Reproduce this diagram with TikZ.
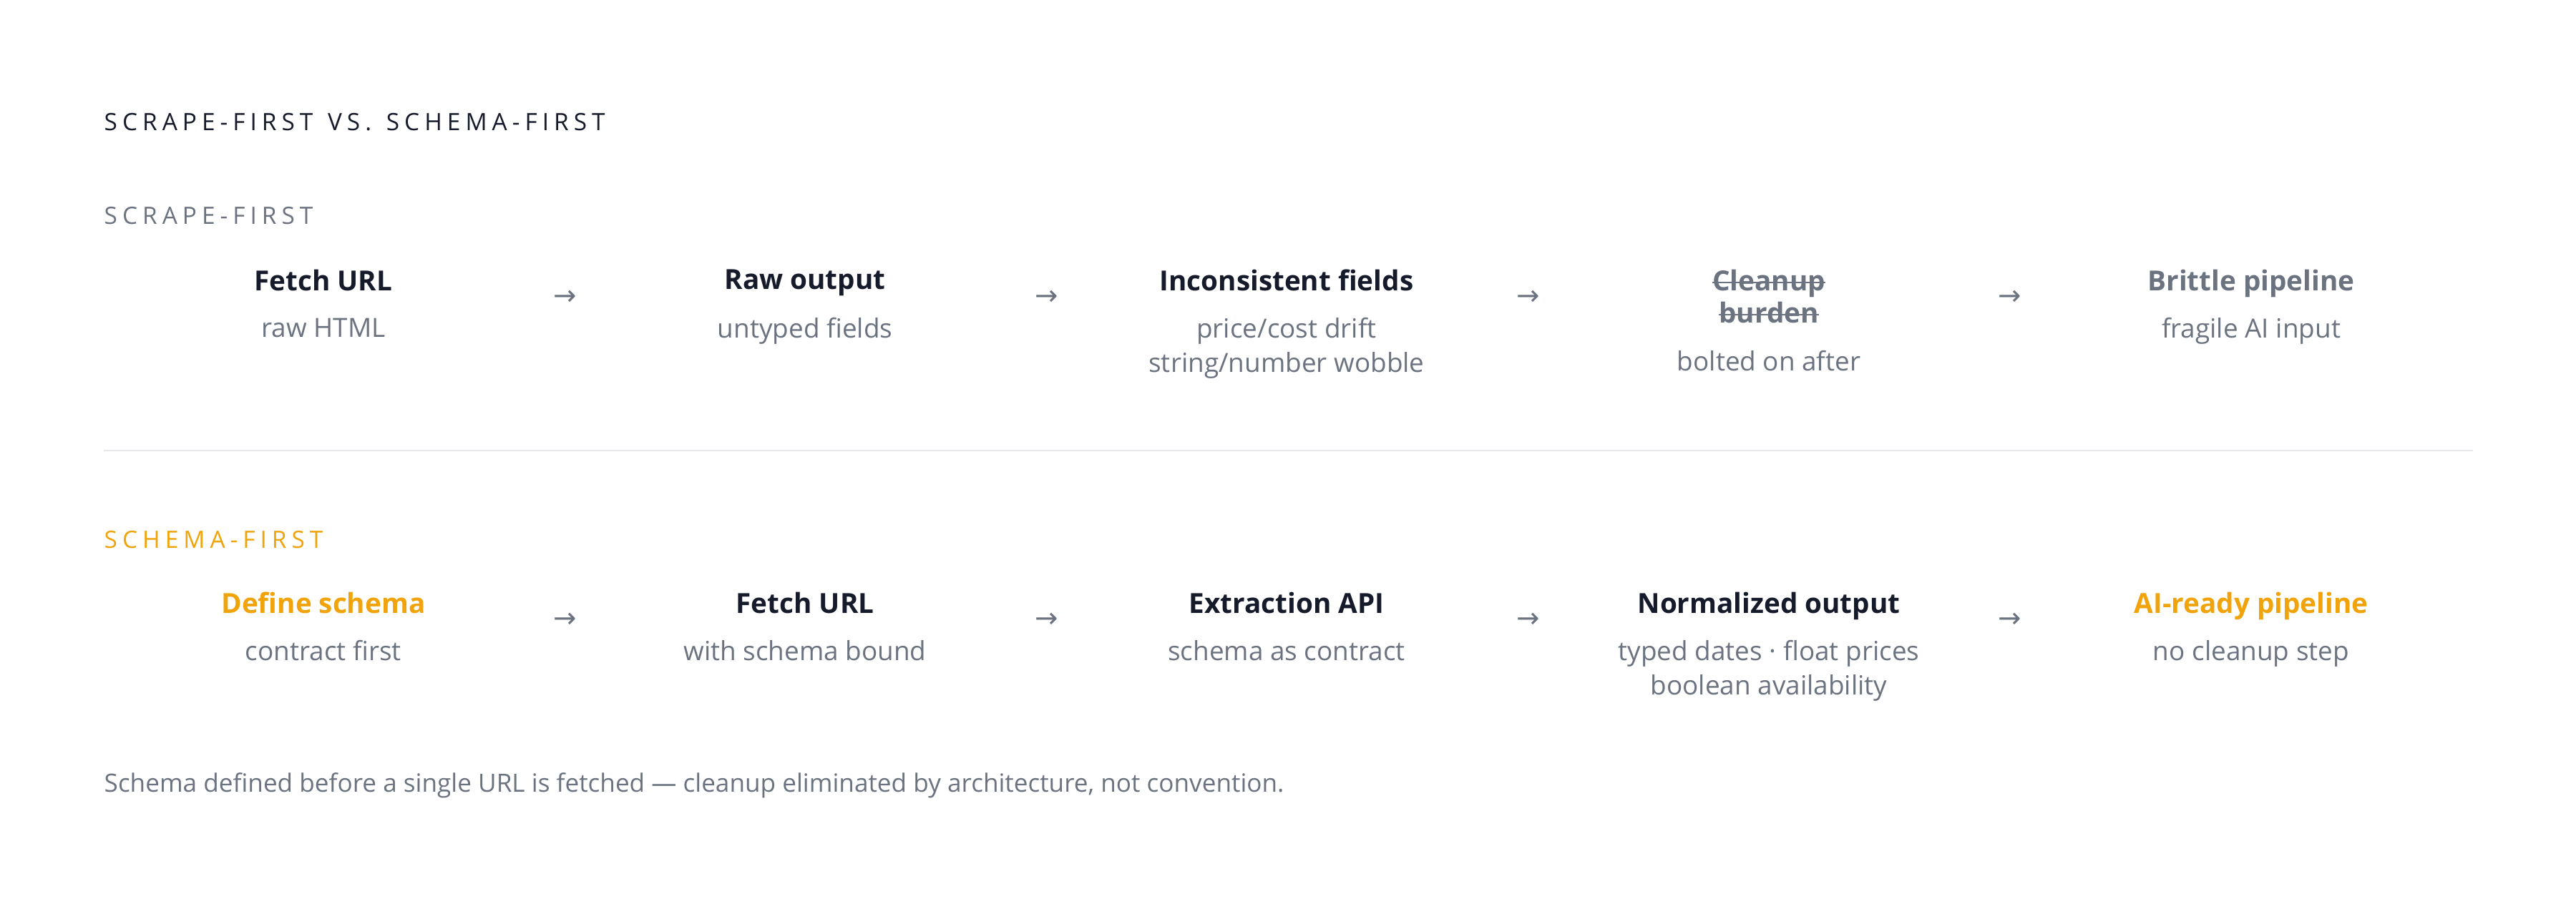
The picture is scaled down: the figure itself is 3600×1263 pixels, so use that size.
\documentclass[tikz,border=0pt]{standalone}
\usepackage{fontspec}
\setmainfont{Open Sans}
\newfontfamily\capsfont[LetterSpace=21]{Open Sans}
\newfontfamily\arrowfont{DejaVu Sans}
\usetikzlibrary{positioning}
\definecolor{ink}{HTML}{161B2B}
\definecolor{slate}{HTML}{6B7280}
\definecolor{amber}{HTML}{F0A30A}
\definecolor{hairline}{HTML}{E5E7EB}
\newsavebox\strikebox
\newcommand\strikeout[1]{\sbox\strikebox{#1}\rlap{\rule[0.27em]{\wd\strikebox}{0.055em}}\usebox\strikebox}
\tikzstyle{heading} = [anchor=base west, inner sep=0, text=ink, font=\capsfont\fontsize{9.5}{11}\selectfont]
\tikzstyle{rowlabel} = [heading, text=slate]
\tikzstyle{steptitle} = [anchor=north, inner sep=0, align=center, text=ink, font=\bfseries\fontsize{11}{12.8}\selectfont]
\tikzstyle{stepnote} = [anchor=north, inner sep=0, align=center, text=slate, font=\fontsize{10.5}{13.6}\selectfont]
\tikzstyle{flow} = [inner sep=0, text=slate, font=\arrowfont\fontsize{11}{11}\selectfont]
\tikzstyle{footnote} = [anchor=base west, inner sep=0, text=slate, font=\fontsize{10}{11}\selectfont]
\tikzstyle{rule} = [draw=hairline, line width=0.2mm]

\begin{document}
\begin{tikzpicture}[x=0.1mm, y=-0.1mm]
  \useasboundingbox (0,0) rectangle (3600,1263);
  \node (title) [heading] at (145,182) {SCRAPE-FIRST \hspace{0.5mm}VS. \hspace{0.5mm}SCHEMA-FIRST};

  % scrape-first row
  \node (lab1) [rowlabel] at (145,313) {SCRAPE-FIRST};
  \node (scr1) [steptitle] at (452,376) {Fetch URL};
  \node (scr2) [steptitle] at (1125,376) {Raw output};
  \node (scr3) [steptitle] at (1798,376) {Inconsistent fields};
  \node (scr4) [steptitle, text=slate] at (2472,376) {\strikeout{Cleanup}\\\strikeout{burden}};
  \node (scr5) [steptitle, text=slate] at (3146,376) {Brittle pipeline};
  \node (scrn1) [stepnote] at (452,444) {raw HTML};
  \node (scrn2) [stepnote] at (1125,444) {untyped fields};
  \node (scrn3) [stepnote] at (1798,444) {price/cost drift\\string/number wobble};
  \node (scrn4) [stepnote] at (2472,490) {bolted on after};
  \node (scrn5) [stepnote] at (3146,444) {fragile AI input};
  \node (sa1) [flow] at (790,416) {→};
  \node (sa2) [flow] at (1463,416) {→};
  \node (sa3) [flow] at (2136,416) {→};
  \node (sa4) [flow] at (2809,416) {→};

  \draw [rule] (145,630) -- (3456,630);

  % schema-first row
  \node (lab2) [rowlabel, text=amber] at (145,766) {SCHEMA-FIRST};
  \node (sch1) [steptitle, text=amber] at (452,827) {Define schema};
  \node (sch2) [steptitle] at (1125,827) {Fetch URL};
  \node (sch3) [steptitle] at (1798,827) {Extraction API};
  \node (sch4) [steptitle] at (2472,827) {Normalized output};
  \node (sch5) [steptitle, text=amber] at (3146,827) {AI-ready pipeline};
  \node (schn1) [stepnote] at (452,895) {contract first};
  \node (schn2) [stepnote] at (1125,895) {with schema bound};
  \node (schn3) [stepnote] at (1798,895) {schema as contract};
  \node (schn4) [stepnote] at (2472,895) {typed dates · float prices\\boolean availability};
  \node (schn5) [stepnote] at (3146,895) {no cleanup step};
  \node (ha1) [flow] at (790,867) {→};
  \node (ha2) [flow] at (1463,867) {→};
  \node (ha3) [flow] at (2136,867) {→};
  \node (ha4) [flow] at (2809,867) {→};

  \node (foot) [footnote] at (145,1107) {Schema defined before a single URL is fetched — cleanup eliminated by architecture, not convention.};
\end{tikzpicture}
\end{document}
